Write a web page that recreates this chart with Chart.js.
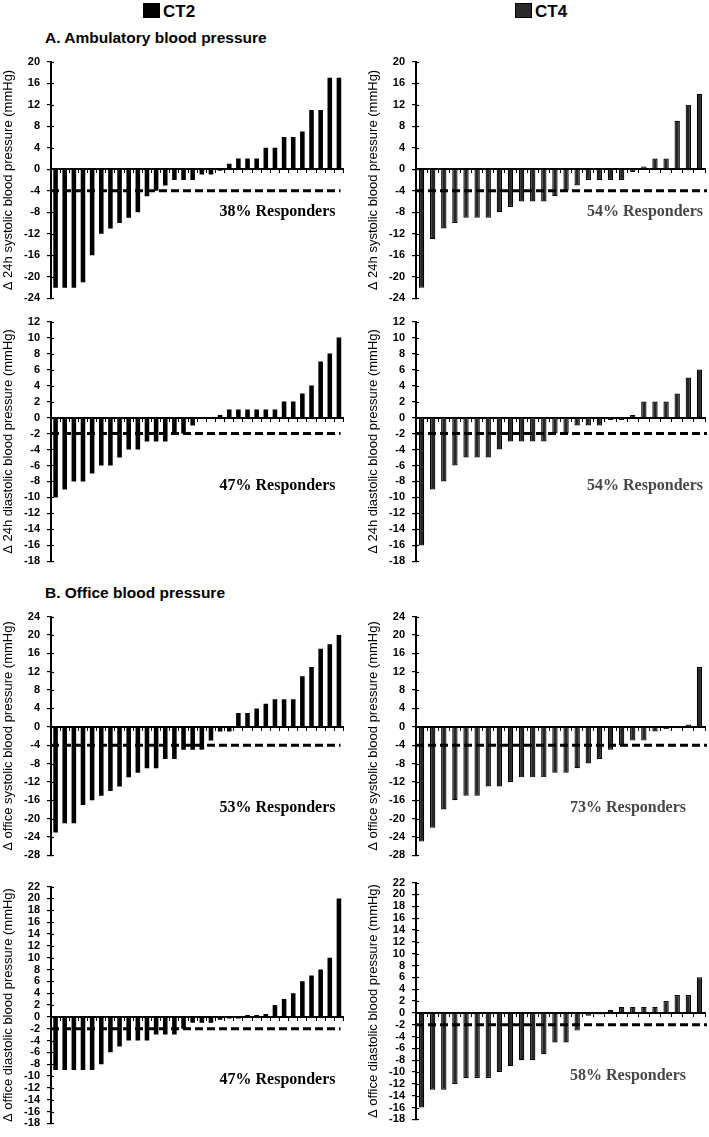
<!DOCTYPE html>
<html>
<head>
<meta charset="utf-8">
<script src="https://cdn.jsdelivr.net/npm/chart.js@4/dist/chart.umd.min.js"></script>
<style>
  body { margin: 0; background: #fff; }
  #page { position: relative; width: 709px; height: 1137px; overflow: hidden; font-family: "Liberation Sans", Arial, sans-serif; }
  canvas { position: absolute; }
  .hdr { position: absolute; font-weight: bold; font-size: 17px; line-height: 20px; }
  .sq { display: inline-block; width: 17px; height: 15px; margin-right: 3px; vertical-align: -1px; }
  .sec { position: absolute; font-weight: bold; font-size: 15.5px; line-height: 18px; }
</style>
</head>
<body>
<div id="page">
  <div class="hdr" style="left:143px;top:2px;"><span class="sq" style="background:#000"></span>CT2</div>
  <div class="hdr" style="left:515px;top:2px;"><span class="sq" style="background:#2a2a2a;border:1px solid #000;width:15px;height:13px"></span>CT4</div>
  <div class="sec" style="left:45px;top:29px;">A. Ambulatory blood pressure</div>
  <div class="sec" style="left:45px;top:584px;">B. Office blood pressure</div>

  <canvas id="p1" width="350" height="264" style="left:0;top:48px"></canvas>
  <canvas id="p2" width="344" height="264" style="left:365px;top:48px"></canvas>
  <canvas id="p3" width="350" height="267" style="left:0;top:308px"></canvas>
  <canvas id="p4" width="344" height="267" style="left:365px;top:308px"></canvas>
  <canvas id="p5" width="350" height="266" style="left:0;top:603px"></canvas>
  <canvas id="p6" width="344" height="266" style="left:365px;top:603px"></canvas>
  <canvas id="p7" width="350" height="264" style="left:0;top:873px"></canvas>
  <canvas id="p8" width="344" height="264" style="left:365px;top:869px"></canvas>
</div>
<script>
// change from baseline per patient, sorted
const ct2Sys24 = [-22, -22, -22, -21, -16, -12, -11, -10, -9, -8, -5, -4, -3, -2, -2, -2, -1, -1, -0.3, 1, 2, 2, 2, 4, 4, 6, 6, 7, 11, 11, 17, 17];
const ct4Sys24 = [-22, -13, -11, -10, -9, -9, -9, -8, -7, -6, -6, -6, -5, -4, -3, -2, -2, -2, -2, -0.5, 0.5, 2, 2, 9, 12, 14];
const ct2Dia24 = [-10, -9, -8, -8, -7, -6, -6, -5, -4, -4, -3, -3, -3, -2, -2, -1, -0.2, -0.2, 0.3, 1, 1, 1, 1, 1, 1, 2, 2, 3, 4, 7, 8, 10];
const ct4Dia24 = [-16, -9, -8, -6, -5, -5, -5, -4, -3, -3, -3, -3, -2, -2, -1, -1, -1, -0.3, -0.3, 0.3, 2, 2, 2, 3, 5, 6];
const ct2SysOff = [-23, -21, -21, -17, -16, -15, -14, -13, -11, -10, -9, -9, -7, -7, -5, -5, -5, -3, -1, -1, 3, 3, 4, 5, 6, 6, 6, 11, 13, 17, 18, 20];
const ct4SysOff = [-25, -22, -18, -16, -15, -15, -13, -13, -12, -11, -11, -11, -10, -10, -9, -8, -7, -5, -4, -3, -3, -1, -0.5, -0.3, 0.5, 13];
const ct2DiaOff = [-9, -9, -9, -9, -9, -8, -6, -5, -4, -4, -4, -3, -3, -3, -2, -1, -1, -1, -0.5, -0.3, -0.3, 0.3, 0.3, 0.5, 2, 3, 4, 6, 7, 8, 10, 20];
const ct4DiaOff = [-16, -13, -13, -12, -11, -11, -11, -10, -9, -8, -8, -7, -5, -5, -3, -0.5, -0.3, 0.5, 1, 1, 1, 1, 2, 3, 3, 6];

const responders = ['38% Responders', '54% Responders', '47% Responders', '54% Responders',
                    '53% Responders', '73% Responders', '47% Responders', '58% Responders'];
const thresholds = [-4, -4, -2, -2, -4, -4, -2, -2];
const yTitles = ['Δ 24h systolic blood pressure (mmHg)', 'Δ 24h diastolic blood pressure (mmHg)',
                 'Δ office systolic blood pressure (mmHg)', 'Δ office diastolic blood pressure (mmHg)'];

// threshold dashes, responder label, inner half of the y ticks
const refPlugin = {
  id: 'ref',
  afterDatasetsDraw(chart, args, o) {
    const { ctx, chartArea } = chart;
    const ys = chart.scales.y;
    const y = ys.getPixelForValue(o.threshold);
    ctx.save();
    ctx.strokeStyle = '#000';
    ctx.lineWidth = 1.2;
    ys.ticks.forEach(t => {
      const ty = Math.round(ys.getPixelForValue(t.value)) + 0.5;
      ctx.beginPath();
      ctx.moveTo(chartArea.left, ty);
      ctx.lineTo(chartArea.left + 3, ty);
      ctx.stroke();
    });
    ctx.lineWidth = 3;
    ctx.setLineDash([8, 4]);
    ctx.beginPath();
    ctx.moveTo(chartArea.left, y);
    ctx.lineTo(chartArea.right + o.lineExtra, y);
    ctx.stroke();
    ctx.setLineDash([]);
    ctx.fillStyle = o.textColor;
    ctx.font = 'bold 16px "Liberation Serif", "Times New Roman", serif';
    ctx.textAlign = 'right';
    ctx.textBaseline = 'middle';
    ctx.fillText(o.text, chartArea.right - o.textRight, ys.getPixelForValue(o.textAt));
    ctx.restore();
  }
};

function panel(id, values, ct4, yMin, yMax, step, title, idx, textAt, textRight) {
  new Chart(document.getElementById(id), {
    type: 'bar',
    data: {
      labels: values.map((_, i) => i + 1),
      datasets: [{
        data: values,
        backgroundColor: ct4 ? '#262626' : '#000',
        borderColor: '#000',
        borderWidth: ct4 ? 1.2 : 0,
        barPercentage: ct4 ? 0.48 : 0.5,
        categoryPercentage: 1
      }]
    },
    options: {
      responsive: false,
      animation: false,
      devicePixelRatio: 1,
      layout: { padding: { top: 10, bottom: 10, right: ct4 ? 4 : 6.5 } },
      plugins: {
        legend: { display: false },
        tooltip: { enabled: false },
        ref: {
          threshold: thresholds[idx],
          text: responders[idx],
          textColor: ct4 ? '#474747' : '#000',
          textAt: textAt,
          textRight: textRight,
          lineExtra: ct4 ? 2 : -3
        }
      },
      scales: {
        x: {
          position: { y: 0 },
          grid: { drawOnChartArea: false, tickLength: 3, color: '#000', lineWidth: 1, offset: true },
          border: { color: '#000', width: 2 },
          ticks: { display: false }
        },
        y: {
          min: yMin, max: yMax,
          afterFit: s => { s.width = 51; },
          grid: { drawOnChartArea: false, tickLength: 4, color: '#000', lineWidth: 1.2 },
          border: { color: '#000', width: 2 },
          ticks: {
            stepSize: step, autoSkip: false, color: '#000', padding: 7,
            font: { family: '"Liberation Sans", Arial, sans-serif', size: 11, weight: 'bold' }
          },
          title: {
            display: true, text: title, color: '#000', padding: { top: 1, bottom: 0 },
            font: { family: '"Liberation Sans", Arial, sans-serif', size: 13 }
          }
        }
      }
    },
    plugins: [refPlugin]
  });
}

panel('p1', ct2Sys24, false, -24, 20, 4, yTitles[0], 0, -8, 8);
panel('p2', ct4Sys24, true, -24, 20, 4, yTitles[0], 1, -8, 2);
panel('p3', ct2Dia24, false, -18, 12, 2, yTitles[1], 2, -8.5, 8);
panel('p4', ct4Dia24, true, -18, 12, 2, yTitles[1], 3, -8.5, 2);
panel('p5', ct2SysOff, false, -28, 24, 4, yTitles[2], 4, -17.6, 8);
panel('p6', ct4SysOff, true, -28, 24, 4, yTitles[2], 5, -17.6, 19);
panel('p7', ct2DiaOff, false, -18, 22, 2, yTitles[3], 6, -10.6, 8);
panel('p8', ct4DiaOff, true, -18, 22, 2, yTitles[3], 7, -10.6, 19);
</script>
</body>
</html>
